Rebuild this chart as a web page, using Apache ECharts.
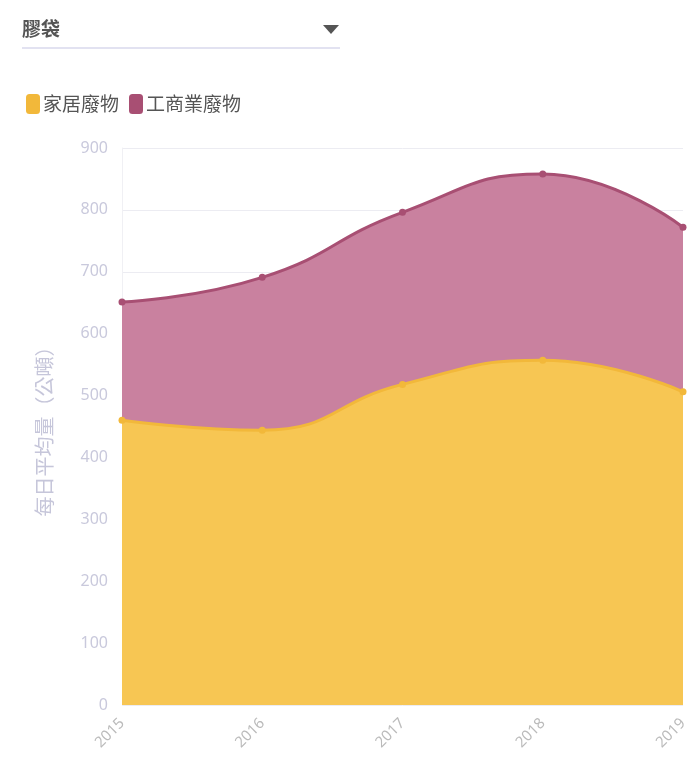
<!DOCTYPE html>
<html><head><meta charset="utf-8">
<script src="https://cdn.jsdelivr.net/npm/echarts@6/dist/echarts.min.js"></script>
<style>html,body{margin:0;padding:0;background:#fff;}#c{width:700px;height:765px;}</style>
</head><body><div id="c"></div>
<script>
const years = ['2015','2016','2017','2018','2019'];
const household = [460, 444, 518, 557, 506];
const commercial = [191, 247, 278, 301, 266];
const seriesNames = ['家居廢物','工商業廢物'];
const yTicks = {min:0, max:900, interval:100};

const chart = echarts.init(document.getElementById('c'));
chart.setOption({
  animation:false,
  backgroundColor:'#fff',
  graphic:[
    {type:'text', left:22, top:19, style:{text:'膠袋', font:'bold 19px "Noto Sans CJK TC"', fill:'#555'}},
    {type:'polygon', shape:{points:[[323,25],[339,25],[331,34]]}, style:{fill:'#555'}},
    {type:'line', shape:{x1:22,y1:48,x2:340,y2:48}, style:{stroke:'#d8d8ec', lineWidth:1.5}}
  ],
  legend:{
    left:21, top:89, itemWidth:14, itemHeight:20, itemGap:10,
    icon:'roundRect',
    textStyle:{fontSize:19, color:'#555', fontFamily:'Noto Sans CJK TC', padding:[0,0,0,-2]},
    data:seriesNames
  },
  grid:{left:122, right:17, top:148, bottom:60},
  xAxis:{
    type:'category', boundaryGap:false, data:years,
    axisLine:{show:false}, axisTick:{show:false},
    axisLabel:{rotate:45, color:'#bbb', fontSize:15, margin:16, fontFamily:'Noto Sans'},
    splitLine:{show:false}
  },
  yAxis:{
    type:'value', min:yTicks.min, max:yTicks.max, interval:yTicks.interval,
    name:'每日平均量（公噸）', nameLocation:'middle', nameGap:68, nameRotate:90,
    nameTextStyle:{color:'#c6c6da', fontSize:20, fontFamily:'Noto Sans CJK TC'},
    axisLine:{show:true, lineStyle:{color:'#f0f0f4'}}, axisTick:{show:false},
    axisLabel:{color:'#c9c9dc', fontSize:16, margin:14, fontFamily:'Noto Sans'},
    splitLine:{lineStyle:{color:'#ececf2'}}
  },
  series:[
    {name:seriesNames[0], type:'line', stack:'t', smooth:true, data:household,
     symbol:'circle', symbolSize:7,
     itemStyle:{color:'#f2b83a'}, lineStyle:{color:'#f2b83a', width:3},
     areaStyle:{color:'#f7c653', opacity:1}},
    {name:seriesNames[1], type:'line', stack:'t', smooth:true, data:commercial,
     symbol:'circle', symbolSize:7,
     itemStyle:{color:'#a84f73'}, lineStyle:{color:'#a84f73', width:3},
     areaStyle:{color:'#c9819f', opacity:1}}
  ]
});
</script></body></html>
